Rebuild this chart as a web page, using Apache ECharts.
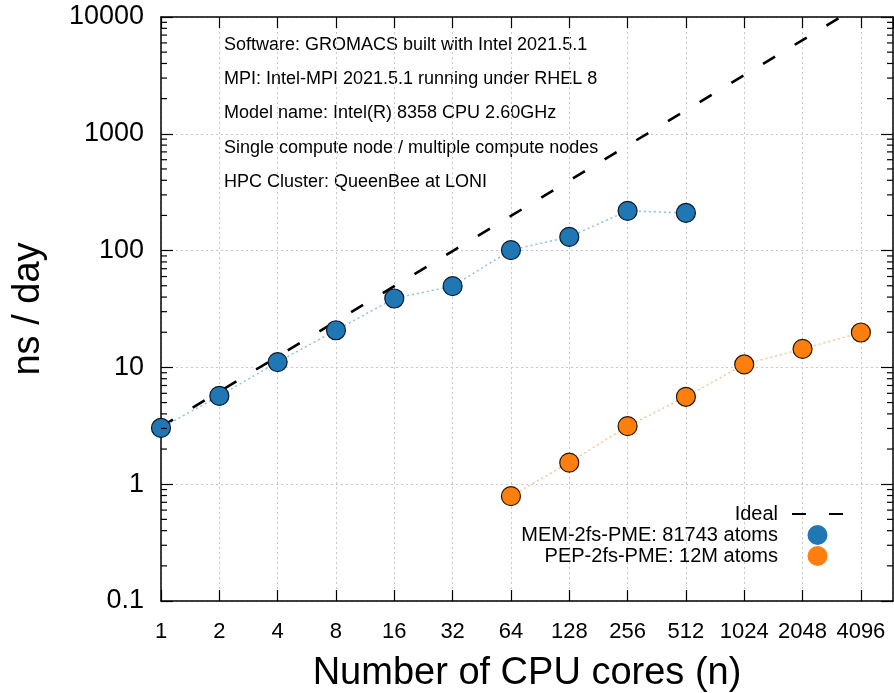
<!DOCTYPE html>
<html>
<head>
<meta charset="utf-8">
<script src="https://cdn.jsdelivr.net/npm/echarts@6/dist/echarts.min.js"></script>
<style>
html,body{margin:0;padding:0;background:#fff;}
#chart{width:894px;height:693px;}
</style>
</head>
<body>
<div id="chart"></div>
<script>
// ---- data ----
const cores = [1, 2, 4, 8, 16, 32, 64, 128, 256, 512, 1024, 2048, 4096];
const idealValues = [3.1, 6.2, 12.4, 24.8, 49.6, 99, 198, 397, 794, 1587, 3174, 6349, 12698];
const memCores = [1, 2, 4, 8, 16, 32, 64, 128, 256, 512];
const memValues = [3.03, 5.7, 11.1, 20.8, 38.9, 49.6, 101, 131, 219, 210];
const pepCores = [64, 128, 256, 512, 1024, 2048, 4096];
const pepValues = [0.79, 1.53, 3.14, 5.6, 10.6, 14.4, 19.9];
const yMinorTicks = [0.2,0.3,0.4,0.5,0.6,0.7,0.8,0.9,2,3,4,5,6,7,8,9,20,30,40,50,60,70,80,90,200,300,400,500,600,700,800,900,2000,3000,4000,5000,6000,7000,8000,9000];
const notes = [
  'Software: GROMACS built with Intel 2021.5.1',
  'MPI: Intel-MPI 2021.5.1 running under RHEL 8',
  'Model name: Intel(R) 8358 CPU 2.60GHz',
  'Single compute node / multiple compute nodes',
  'HPC Cluster: QueenBee at LONI'
];
const names = ['Ideal', 'MEM-2fs-PME: 81743 atoms', 'PEP-2fs-PME: 12M atoms'];

const X_MIN = 1, X_MAX = 6000, Y_MIN = 0.1, Y_MAX = 10000;
const FONT = 'Liberation Sans, Arial, Helvetica, sans-serif';

const pairs = (xs, ys) => xs.map((x, i) => [x, ys[i]]);

const chart = echarts.init(document.getElementById('chart'));

const xBase = {
  type: 'log', logBase: 2, min: X_MIN, max: X_MAX, interval: 1,
  axisLine: {show: true, onZero: false, lineStyle: {color: '#000', width: 1.5}},
  axisTick: {show: true, inside: true, length: 11, lineStyle: {color: '#000', width: 1.2}}
};
const yBase = {
  type: 'log', logBase: 10, min: Y_MIN, max: Y_MAX,
  axisLine: {show: true, onZero: false, lineStyle: {color: '#000', width: 1.5}},
  axisTick: {show: true, inside: true, length: 12, lineStyle: {color: '#000', width: 1.2}}
};

// minor y ticks: short inward lines at both plot edges, positioned through the y scale
const minorTickCustom = (name, xVal, dir) => ({
  name: name, type: 'custom',
  data: yMinorTicks.map(v => [xVal, v]),
  encode: {x: 0, y: 1},
  clip: false, silent: true, z: 10,
  renderItem: (params, api) => {
    const p = api.coord([api.value(0), api.value(1)]);
    return {
      type: 'line',
      shape: {x1: p[0], y1: p[1], x2: p[0] + dir * 6, y2: p[1]},
      style: {stroke: '#000', lineWidth: 1.2}
    };
  }
});

const option = {
  animation: false,
  backgroundColor: '#fff',
  grid: {left: 161, right: 1, top: 17, bottom: 92, outerBoundsMode: 'none'},
  xAxis: [
    Object.assign({}, xBase, {
      position: 'bottom',
      name: 'Number of CPU cores (n)', nameLocation: 'middle', nameGap: 54,
      nameTextStyle: {fontSize: 38, color: '#000', fontFamily: FONT},
      axisLabel: {show: true, margin: 20, fontSize: 22, color: '#000', fontFamily: FONT,
        showMaxLabel: false,
        formatter: v => String(Math.round(v))},
      splitLine: {show: true, lineStyle: {color: '#c8c8c8', type: [2, 3], width: 1}}
    }),
    Object.assign({}, xBase, {
      position: 'top',
      axisLabel: {show: false},
      splitLine: {show: false}
    })
  ],
  yAxis: [
    Object.assign({}, yBase, {
      position: 'left',
      name: 'ns / day', nameLocation: 'middle', nameGap: 113, nameRotate: 90,
      nameTextStyle: {fontSize: 38, color: '#000', fontFamily: FONT},
      axisLabel: {show: true, margin: 17, fontSize: 27, color: '#000', fontFamily: FONT,
        formatter: v => v < 1 ? v.toFixed(1) : String(Math.round(v))},
      splitLine: {show: true, lineStyle: {color: '#c8c8c8', type: [2, 3], width: 1}}
    }),
    Object.assign({}, yBase, {
      position: 'right',
      axisLabel: {show: false},
      splitLine: {show: false}
    })
  ],
  legend: {
    show: true, orient: 'vertical', align: 'right',
    right: 45, top: 499,
    itemWidth: 51, itemHeight: 20, itemGap: 1,
    selectedMode: false,
    textStyle: {fontSize: 20, color: '#000', fontFamily: FONT, padding: [0, 9, 0, 0]},
    data: [
      {name: names[0], itemStyle: {opacity: 0}},
      {name: names[1], icon: 'circle', itemStyle: {borderWidth: 0}},
      {name: names[2], icon: 'circle', itemStyle: {borderWidth: 0}}
    ]
  },
  graphic: notes.map((t, i) => ({
    type: 'text', left: 224, top: 36 + i * 34.2,
    style: {text: t, font: '18px ' + FONT, fill: '#000'}, silent: true
  })),
  series: [
    minorTickCustom('minorL', X_MIN, 1),
    minorTickCustom('minorR', X_MAX, -1),
    {
      name: names[0], type: 'line',
      data: pairs(cores, idealValues),
      symbol: 'none', clip: true, z: 3,
      lineStyle: {color: '#000', width: 2.6, type: [14, 23]},
      itemStyle: {color: '#000'}
    },
    {
      name: names[1], type: 'line',
      data: pairs(memCores, memValues),
      symbol: 'circle', symbolSize: 19, z: 4,
      lineStyle: {color: '#8cbfe6', width: 1.5, type: [2, 3]},
      itemStyle: {color: '#1f77b4', borderColor: '#0a1a2a', borderWidth: 1.2}
    },
    {
      name: names[2], type: 'line',
      data: pairs(pepCores, pepValues),
      symbol: 'circle', symbolSize: 19, z: 4,
      lineStyle: {color: '#ffc28e', width: 1.5, type: [2, 3]},
      itemStyle: {color: '#ff7f0e', borderColor: '#2a1600', borderWidth: 1.2}
    }
  ]
};
chart.setOption(option);
</script>
</body>
</html>
